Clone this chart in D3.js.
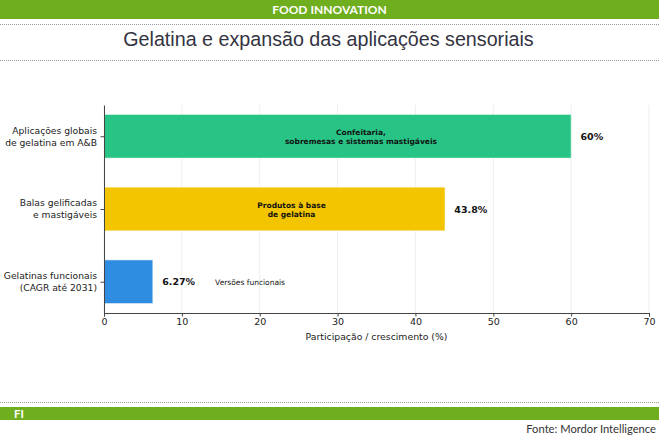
<!DOCTYPE html>
<html lang="pt">
<head>
<meta charset="utf-8">
<title>Gelatina e expansão das aplicações sensoriais</title>
<script src="https://cdn.jsdelivr.net/npm/d3@7/dist/d3.min.js"></script>
<style>
	body { margin: 0; background: #fff; }
	svg { display: block; }
	.tick text { font-family: "DejaVu Sans", sans-serif; fill: #222; }
</style>
</head>
<body>
<script>
// data
var categories = [
	["Aplicações globais", "de gelatina em A&B"],
	["Balas gelificadas", "e mastigáveis"],
	["Gelatinas funcionais", "(CAGR até 2031)"]
];
var values = [60, 43.8, 6.27];
var valueLabels = ["60%", "43.8%", "6.27%"];
var notes = [
	["Confeitaria,", "sobremesas e sistemas mastigáveis"],
	["Produtos à base", "de gelatina"],
	["Versões funcionais"]
];
var barColors = ["#27c485", "#f2c500", "#2e8de0"];
var xTicks = [0, 10, 20, 30, 40, 50, 60, 70];

var width = 659, height = 436;
var green = "#6fae1e";

var svg = d3.select("body").append("svg")
	.attr("width", width)
	.attr("height", height);

// header band
svg.append("rect").attr("x", 0).attr("y", 0).attr("width", width).attr("height", 19).attr("fill", green);
svg.append("text")
	.attr("x", width / 2).attr("y", 14)
	.attr("text-anchor", "middle")
	.attr("font-family", "Lato, sans-serif")
	.attr("font-weight", "bold")
	.attr("font-size", 12)
	.attr("fill", "#fff")
	.text("FOOD INNOVATION");

function dotted(yy) {
	svg.append("line")
		.attr("x1", 0).attr("x2", width)
		.attr("y1", yy).attr("y2", yy)
		.attr("stroke", "#999")
		.attr("stroke-width", 1)
		.attr("stroke-dasharray", "1,1");
}
dotted(24.5);
dotted(60.5);

svg.append("text")
	.attr("x", width / 2 - 1).attr("y", 46)
	.attr("text-anchor", "middle")
	.attr("font-family", "'Liberation Sans', Arial, sans-serif")
	.attr("font-size", 19.7)
	.attr("fill", "#33333f")
	.text("Gelatina e expansão das aplicações sensoriais");

// plot area
var plotLeft = 104, plotRight = 649, plotTop = 105, plotBottom = 313;

var x = d3.scaleLinear().domain([0, 70]).range([plotLeft, plotRight]);
var y = d3.scaleLinear().domain([-0.43, 2.43]).range([plotTop, plotBottom]);
var barH = y(0.6) - y(0);

// grid
svg.append("g").selectAll("line")
	.data(xTicks)
	.enter().append("line")
	.attr("x1", d => x(d)).attr("x2", d => x(d))
	.attr("y1", plotTop).attr("y2", plotBottom)
	.attr("stroke", "#eeeeee")
	.attr("stroke-width", 1);

// bars
svg.append("g").selectAll("rect")
	.data(values)
	.enter().append("rect")
	.attr("x", x(0))
	.attr("y", (d, i) => y(i) - barH / 2)
	.attr("width", d => x(d) - x(0))
	.attr("height", barH)
	.attr("fill", (d, i) => barColors[i])
	.attr("stroke", "#fff")
	.attr("stroke-opacity", 0.5)
	.attr("stroke-width", 1);

// value labels
svg.append("g").selectAll("text")
	.data(values)
	.enter().append("text")
	.attr("x", d => x(d + 1.2))
	.attr("y", (d, i) => y(i) + 3.5)
	.attr("font-family", "'DejaVu Sans', sans-serif")
	.attr("font-weight", "bold")
	.attr("font-size", 9.5)
	.attr("fill", "#111")
	.text((d, i) => valueLabels[i]);

// notes: inside the long bars, beside the short one
var noteG = svg.append("g")
	.attr("font-family", "'DejaVu Sans', sans-serif")
	.attr("font-size", 7.5)
	.attr("fill", "#111");
values.forEach(function(v, i) {
	var inside = i < 2;
	var nx = inside ? x(v * 0.55) : x(v + 8);
	var t = noteG.append("text")
		.attr("text-anchor", inside ? "middle" : "start")
		.attr("font-weight", inside ? "bold" : "normal");
	var lines = notes[i];
	lines.forEach(function(s, j) {
		t.append("tspan")
			.attr("x", nx)
			.attr("y", y(i) + 3 + (j - (lines.length - 1) / 2) * 9)
			.text(s);
	});
});

// x axis
var xAxis = svg.append("g")
	.attr("transform", "translate(0," + plotBottom + ")")
	.call(d3.axisBottom(x).tickValues(xTicks).tickSize(3.5).tickPadding(2).tickFormat(d3.format("d")));
xAxis.selectAll("text").attr("font-size", 9.5);
xAxis.select(".domain").attr("stroke", "#444");
xAxis.selectAll(".tick line").attr("stroke", "#444");

// y axis
var yAxis = svg.append("g")
	.attr("transform", "translate(" + plotLeft + ",0)")
	.call(d3.axisLeft(y).tickValues([0, 1, 2]).tickSize(3.5).tickSizeOuter(0).tickFormat(""));
yAxis.select(".domain").attr("stroke", "#444");
yAxis.selectAll(".tick line").attr("stroke", "#444");

var catG = svg.append("g")
	.attr("font-family", "'DejaVu Sans', sans-serif")
	.attr("font-size", 9.2)
	.attr("fill", "#222")
	.attr("text-anchor", "end");
categories.forEach(function(c, i) {
	var t = catG.append("text");
	c.forEach(function(s, j) {
		t.append("tspan")
			.attr("x", plotLeft - 7)
			.attr("y", y(i) + 3.3 + (j - 0.5) * 12)
			.text(s);
	});
});

svg.append("text")
	.attr("x", (plotLeft + plotRight) / 2).attr("y", 340)
	.attr("text-anchor", "middle")
	.attr("font-family", "'DejaVu Sans', sans-serif")
	.attr("font-size", 9.3)
	.attr("fill", "#222")
	.text("Participação / crescimento (%)");

// footer
dotted(402.5);
svg.append("rect").attr("x", 0).attr("y", 407).attr("width", width).attr("height", 13).attr("fill", green);
svg.append("text")
	.attr("x", 14).attr("y", 417.5)
	.attr("font-family", "Lato, sans-serif")
	.attr("font-weight", "bold")
	.attr("font-size", 11.5)
	.attr("fill", "#fff")
	.text("FI");
svg.append("text")
	.attr("x", 656).attr("y", 433)
	.attr("text-anchor", "end")
	.attr("font-family", "Lato, sans-serif")
	.attr("font-size", 11.2)
	.attr("fill", "#333")
	.text("Fonte: Mordor Intelligence");
</script>
</body>
</html>
